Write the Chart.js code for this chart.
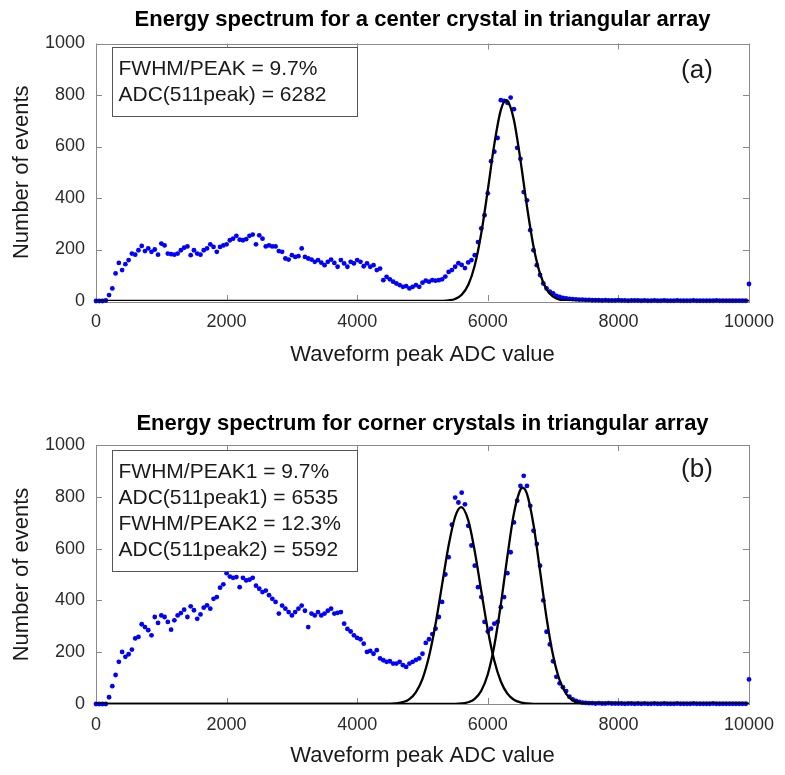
<!DOCTYPE html>
<html><head><meta charset="utf-8">
<script src="https://cdn.jsdelivr.net/npm/chart.js@4.4.0/dist/chart.umd.min.js"></script>
<style>
html,body{margin:0;padding:0;background:#fff;}
#wrap{position:relative;width:785px;height:775px;}
canvas{position:absolute;left:0;}
</style></head><body>
<div id="wrap">
<canvas id="c1" width="785" height="400" style="top:0px"></canvas>
<canvas id="c2" width="785" height="375" style="top:400px"></canvas>
</div>
<script>
// ---- data ----
const binWidth = 50; // ADC bin width of the histograms
const xTicks = [0, 2000, 4000, 6000, 8000, 10000];
const yTicks = [0, 200, 400, 600, 800, 1000];

// (a) center crystal: counts per 50-ADC bin, 0..10000
const countsCenter = [
  0,0,0,2,23,49,107,148,120,143,
  159,184,180,197,214,194,204,191,200,180,
  223,216,184,182,180,184,197,207,212,178,
  197,184,180,197,204,220,210,191,210,216,
  220,236,242,253,238,236,240,253,258,220,
  255,242,212,216,212,212,194,191,165,161,
  178,171,174,204,171,165,161,152,159,149,
  139,152,161,148,133,159,146,133,152,146,
  159,152,135,146,133,139,120,126,81,94,
  84,75,68,62,55,58,49,55,62,55,
  71,79,75,81,79,81,84,95,113,120,
  133,147,140,128,150,159,178,229,282,333,
  418,543,580,633,780,777,770,790,745,595,
  552,423,391,275,197,139,101,68,49,36,
  30,20,16,12,10,8,
  7,6,5,5,4,4,3,3,3,2,
  3,2,2,2,3,2,2,1,2,2,
  2,1,2,1,1,2,1,1,2,1,
  1,1,2,1,1,1,1,2,1,1,
  1,1,1,1,2,1,1,1,1,1,
  1,1,1,1,
  66
];
// (b) corner crystals
const countsCorner = [
  0,0,0,0,26,69,112,163,201,182,
  192,210,253,259,308,297,285,265,336,313,
  342,336,317,287,323,342,351,364,336,377,
  362,329,346,372,381,368,406,413,449,462,
  505,492,487,490,451,487,477,480,487,457,
  445,432,438,420,406,394,349,380,368,355,
  342,355,368,380,360,297,349,342,355,342,
  349,360,368,349,352,355,310,290,280,265,
  255,250,233,201,205,194,208,176,169,163,
  165,156,156,163,150,143,156,163,170,176,
  194,236,250,270,291,336,394,500,567,692,
  797,778,816,771,688,612,534,451,413,317,
  280,291,310,317,374,413,505,586,701,785,
  842,881,842,765,669,618,534,400,279,230,
  165,105,80,65,50,28,18,12,8,5,
  4,3,3,2,3,2,2,3,2,2,
  2,2,1,2,2,1,2,1,2,1,
  1,2,1,1,2,1,1,1,2,1,
  1,1,1,2,1,1,1,1,1,2,
  1,1,1,1,1,1,1,1,1,1,
  95
];

// fitted peak curves
const fitAx = [0,5200,5300,5400,5500,5600,5700,5800,5900,6000,6100,6200,6282,6300,6400,6500,6600,6700,6800,6900,7000,7100,7200,7300,7400,10000];
const fitAy = [0,0.1,0.6,2.4,8,24,62,138,263,431,609,742,780,778,703,547,367,212,106,45,17,5,1.5,0.3,0,0];

const fitB1x = [0,4500,4600,4700,4800,4900,5000,5100,5200,5300,5400,5500,5592,5700,5800,5900,6000,6100,6200,6300,6400,6500,6600,6700,10000];
const fitB1y = [0,0.7,2.4,7.2,19,46,97,184,309,461,612,723,760,710,590,436,286,167,87,40,16.6,6,2,0.5,0];

const fitB2x = [0,5500,5600,5700,5800,5900,6000,6100,6200,6300,6400,6500,6535,6600,6700,6800,6900,7000,7100,7200,7300,7400,7500,7600,10000];
const fitB2y = [0,0.5,2,6.7,20,51,115,226,385,570,736,828,835,811,692,514,332,187,92,39,14.6,4.7,1.3,0.3,0];

const titles = [
  'Energy spectrum for a center crystal in triangular array',
  'Energy spectrum for corner crystals in triangular array'
];
const infoA = ['FWHM/PEAK = 9.7%', 'ADC(511peak) = 6282'];
const infoB = ['FWHM/PEAK1 = 9.7%', 'ADC(511peak1) = 6535', 'FWHM/PEAK2 = 12.3%', 'ADC(511peak2) = 5592'];
const xLabel = 'Waveform peak ADC value';
const yLabel = 'Number of events';

// ---- build ----
const FONT = '"Liberation Sans", Arial, Helvetica, sans-serif';
const pts = arr => arr.map((v, i) => ({x: i * binWidth, y: v}));
const line = (xs, ys) => xs.map((x, i) => ({x, y: ys[i]}));

const decor = {
  id: 'panelDecor',
  beforeDatasetsDraw(chart, args, opts) {
    const {ctx, chartArea: a, scales: {x, y}} = chart;
    ctx.save();
    ctx.strokeStyle = '#8a8a8a';
    ctx.lineWidth = 1;
    ctx.strokeRect(Math.round(a.left) + 0.5, Math.round(a.top) + 0.5, Math.round(a.right - a.left), Math.round(a.bottom - a.top));
    ctx.beginPath();
    xTicks.forEach(v => {
      const px = Math.round(x.getPixelForValue(v)) + 0.5;
      ctx.moveTo(px, a.bottom); ctx.lineTo(px, a.bottom - 6);
      ctx.moveTo(px, a.top); ctx.lineTo(px, a.top + 6);
    });
    yTicks.forEach(v => {
      const py = Math.round(y.getPixelForValue(v)) + 0.5;
      ctx.moveTo(a.left, py); ctx.lineTo(a.left + 6, py);
      ctx.moveTo(a.right, py); ctx.lineTo(a.right - 6, py);
    });
    ctx.stroke();
    ctx.restore();
  },
  afterDatasetsDraw(chart, args, opts) {
    const {ctx, chartArea: a} = chart;
    ctx.save();
    const bx = Math.round(a.left + 16) + 0.5, by = Math.round(a.top + opts.boxTop) + 0.5;
    const bh = opts.lines.length * 26 + 17;
    ctx.fillStyle = '#fff';
    ctx.fillRect(bx, by, 245, bh);
    ctx.strokeStyle = '#555';
    ctx.lineWidth = 1;
    ctx.strokeRect(bx, by, 245, bh);
    ctx.fillStyle = '#1a1a1a';
    ctx.font = '21px ' + FONT;
    ctx.textBaseline = 'middle';
    ctx.textAlign = 'left';
    opts.lines.forEach((t, i) => ctx.fillText(t, bx + 6, by + 22 + i * 26));
    ctx.font = '26px ' + FONT;
    ctx.textAlign = 'center';
    ctx.fillText(opts.tag, a.right - 52, a.top + opts.tagY);
    ctx.restore();
  }
};

function makeChart(id, title, datasets, info, tag, g) {
  return new Chart(document.getElementById(id), {
    type: 'scatter',
    data: {datasets},
    options: {
      responsive: false, animation: false, devicePixelRatio: 1,
      layout: {padding: {left: 0, right: 36, top: 0, bottom: 0}},
      plugins: {
        legend: {display: false}, tooltip: {enabled: false},
        title: {display: true, text: title, color: '#000', fullSize: false,
          font: {family: FONT, size: 22, weight: 'bold', lineHeight: 1.2},
          padding: {top: g.tTop, bottom: g.tBot}},
        panelDecor: {lines: info, tag, boxTop: g.boxTop, tagY: g.tagY}
      },
      scales: {
        x: {type: 'linear', min: 0, max: 10000,
          afterBuildTicks: s => { s.ticks = xTicks.map(v => ({value: v})); },
          ticks: {font: {family: FONT, size: 18}, color: '#2b2b2b', padding: 10, maxRotation: 0, autoSkip: false, callback: v => String(v)},
          grid: {display: false, drawTicks: false}, border: {display: false},
          title: {display: true, text: xLabel, color: '#1a1a1a', font: {family: FONT, size: 22, lineHeight: 1.2}, padding: {top: 0, bottom: g.xtPad}},
          afterFit: s => { s.height = g.xH; }},
        y: {min: 0, max: 1000,
          afterBuildTicks: s => { s.ticks = yTicks.map(v => ({value: v})); },
          ticks: {font: {family: FONT, size: 18}, color: '#2b2b2b', padding: 11, callback: v => String(v)},
          grid: {display: false, drawTicks: false}, border: {display: false},
          title: {display: true, text: yLabel, color: '#1a1a1a', font: {family: FONT, size: 22, lineHeight: 1.2}, padding: {top: 8.8, bottom: 0}},
          afterFit: s => { s.width = 96; }}
      }
    },
    plugins: [decor]
  });
}

const pointStyle = {showLine: false, pointRadius: 2.4, pointBackgroundColor: '#0000ff', pointBorderWidth: 0, borderColor: '#0000ff', clip: false, order: 2};
const fitStyle = {showLine: true, pointRadius: 0, borderColor: '#000', borderWidth: 2.3, cubicInterpolationMode: 'monotone', order: 1};

makeChart('c1', titles[0], [
  Object.assign({label: 'data', data: pts(countsCenter)}, pointStyle),
  Object.assign({label: 'fit', data: line(fitAx, fitAy)}, fitStyle)
], infoA, '(a)', {tTop: 7, tBot: 10.1, xH: 99, xtPad: 31.8, boxTop: 3.5, tagY: 27});

makeChart('c2', titles[1], [
  Object.assign({label: 'data', data: pts(countsCorner)}, pointStyle),
  Object.assign({label: 'fit1', data: line(fitB1x, fitB1y)}, fitStyle),
  Object.assign({label: 'fit2', data: line(fitB2x, fitB2y)}, fitStyle)
], infoB, '(b)', {tTop: 11, tBot: 7.6, xH: 71, xtPad: 5.8, boxTop: 5, tagY: 25});
</script>
</body></html>
